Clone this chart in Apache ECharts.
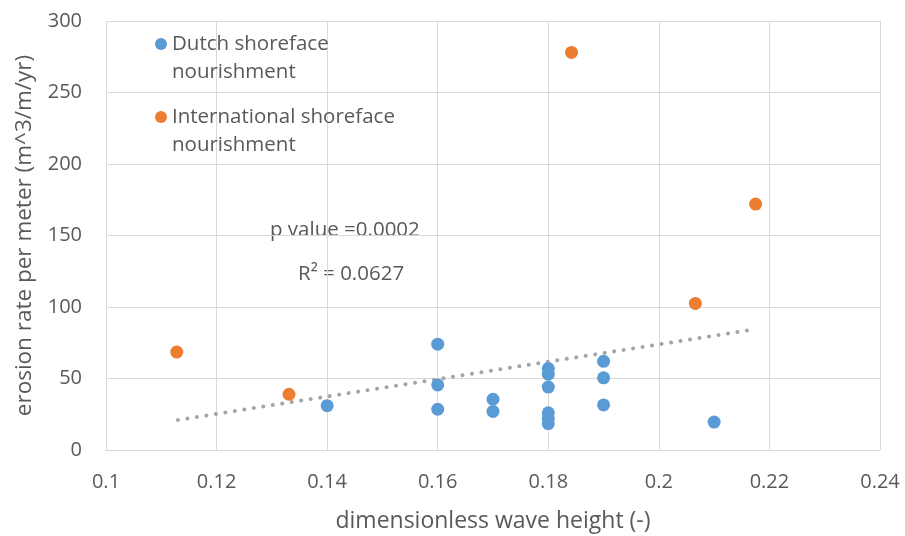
<!DOCTYPE html>
<html><head><meta charset="utf-8">
<script src="https://cdn.jsdelivr.net/npm/echarts@6/dist/echarts.min.js"></script>
<style>html,body{margin:0;padding:0;background:#fff}#c{width:905px;height:536px}</style>
</head><body><div id="c"></div>
<script>
const dutchX = [0.14, 0.16, 0.16, 0.16, 0.17, 0.17, 0.18, 0.18, 0.18, 0.18, 0.18, 0.18, 0.19, 0.19, 0.19, 0.21];
const dutchY = [31, 74, 45.5, 28.5, 35.5, 27, 57, 53, 44, 26, 22, 18.5, 62, 50.5, 31.5, 19.5];
const intlX = [0.1128, 0.1331, 0.1842, 0.2066, 0.2175];
const intlY = [68.5, 39, 278, 102.5, 172];
const trendX = [0.113, 0.2175];
const trendY = [21, 84.5];
const seriesNames = ['Dutch shoreface nourishment', 'International shoreface nourishment'];
const xTicks = {min: 0.1, max: 0.24, step: 0.02};
const yTicks = {min: 0, max: 300, step: 50};
const notes = ['p value =0.0002', 'R² = 0.0627'];

const FONT = '"Open Sans", "Noto Sans", sans-serif';
const TXT = '#595959';
const zip = (xs, ys) => xs.map((x, i) => [x, ys[i]]);
const chart = echarts.init(document.getElementById('c'));
const legendText = {fontFamily: FONT, fontSize: 20.5, color: TXT, lineHeight: 28.5};
const legendFmt = n => '\n' + n.replace(/ nourishment$/, '\nnourishment');
chart.setOption({
  animation: false,
  grid: {left: 106, right: 25, top: 21, bottom: 86, containLabel: false, outerBoundsMode: 'none'},
  legend: [
    {data: [seriesNames[0]], orient: 'vertical', left: 155, top: 1.2, padding: 0, icon: 'circle',
     itemWidth: 12, itemHeight: 12, itemGap: 0, textStyle: legendText, formatter: legendFmt},
    {data: [seriesNames[1]], orient: 'vertical', left: 155, top: 74.2, padding: 0, icon: 'circle',
     itemWidth: 12, itemHeight: 12, itemGap: 0, textStyle: legendText, formatter: legendFmt}
  ],
  xAxis: {
    type: 'value', min: xTicks.min, max: xTicks.max, interval: xTicks.step,
    name: 'dimensionless wave height (-)', nameLocation: 'middle', nameGap: 60,
    nameTextStyle: {fontFamily: FONT, fontSize: 23, color: TXT},
    axisLine: {show: true, lineStyle: {color: '#d9d9d9', width: 1}},
    axisTick: {show: false},
    axisLabel: {fontFamily: FONT, fontSize: 20, color: TXT, margin: 22},
    splitLine: {show: true, lineStyle: {color: '#d9d9d9', width: 1}}
  },
  yAxis: {
    type: 'value', min: yTicks.min, max: yTicks.max, interval: yTicks.step,
    name: 'erosion rate per meter (m^3/m/yr)', nameLocation: 'middle', nameGap: 70,
    nameTextStyle: {fontFamily: FONT, fontSize: 22.5, color: TXT},
    axisLine: {show: false}, axisTick: {show: false},
    axisLabel: {fontFamily: FONT, fontSize: 20, color: TXT, margin: 24},
    splitLine: {show: true, lineStyle: {color: '#d9d9d9', width: 1}}
  },
  series: [
    {name: 'trend', type: 'line', data: zip(trendX, trendY), symbol: 'none', silent: true, z: 1,
     lineStyle: {color: '#a5a5a5', width: 4, type: [0.1, 9.5], cap: 'round'}},
    {name: seriesNames[0], type: 'scatter', data: zip(dutchX, dutchY), symbolSize: 13, z: 3,
     itemStyle: {color: '#5b9bd5', opacity: 1}},
    {name: seriesNames[1], type: 'scatter', data: zip(intlX, intlY), symbolSize: 13, z: 3,
     itemStyle: {color: '#ed7d31', opacity: 1}}
  ],
  graphic: [
    {type: 'text', x: 270, y: 230, style: {text: notes[0], font: '20.5px ' + FONT, fill: TXT, verticalAlign: 'middle'}},
    {type: 'text', x: 298, y: 274, style: {text: notes[1], font: '20.5px ' + FONT, fill: TXT, verticalAlign: 'middle'}}
  ]
});
</script></body></html>
